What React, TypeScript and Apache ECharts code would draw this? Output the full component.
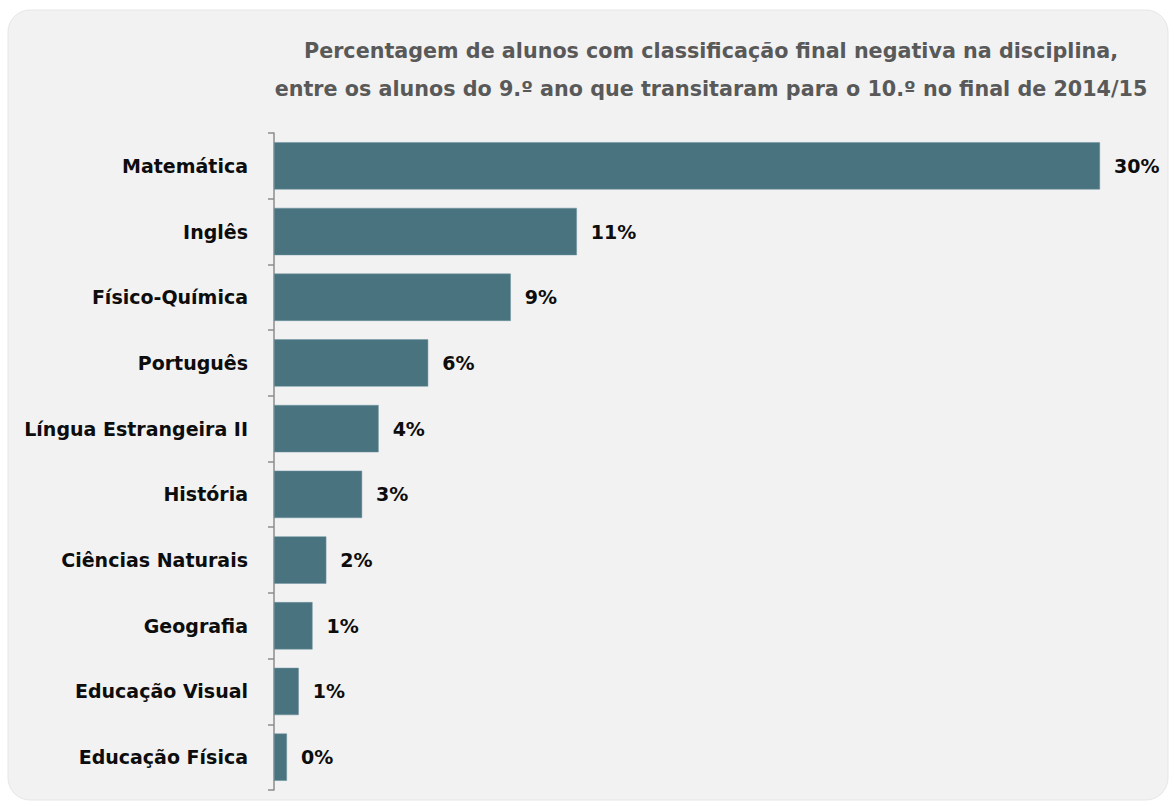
import React, { useEffect, useRef } from "react";
import * as echarts from "echarts";

const categories = [
  "Matemática",
  "Inglês",
  "Físico-Química",
  "Português",
  "Língua Estrangeira II",
  "História",
  "Ciências Naturais",
  "Geografia",
  "Educação Visual",
  "Educação Física",
];
const values = [30.0, 11.0, 8.6, 5.6, 3.8, 3.2, 1.9, 1.4, 0.9, 0.47];
const titleLines = [
  "Percentagem de alunos com classificação final negativa na disciplina,",
  "entre os alunos do 9.º ano que transitaram para o 10.º no final de 2014/15",
];

const FONT = "'DejaVu Sans'";

export default function App() {
  const ref = useRef<HTMLDivElement>(null);
  useEffect(() => {
    const chart = echarts.init(ref.current!, null, { renderer: "svg" });
    chart.setOption({
      animation: false,
      backgroundColor: "#ffffff",
      graphic: [
        {
          type: "rect",
          z: -10,
          shape: { x: 8, y: 10, width: 1160, height: 790, r: 22 },
          style: { fill: "#f2f2f2", stroke: "#e6e6e6", lineWidth: 1 },
        },
      ],
      title: {
        text: titleLines.join("\n"),
        left: 706,
        top: 27,
        textAlign: "center",
        textStyle: {
          fontFamily: FONT,
          fontWeight: "bold",
          fontSize: 20.7,
          color: "#595959",
          lineHeight: 38,
          align: "center",
        },
      },
      grid: { left: 274, right: 74, top: 133, bottom: 16, containLabel: false },
      xAxis: {
        type: "value",
        min: 0,
        max: 30,
        show: false,
      },
      yAxis: {
        type: "category",
        inverse: true,
        data: categories,
        axisLine: { show: true, lineStyle: { color: "#8c8c8c", width: 1.5 } },
        axisTick: { show: true, length: 6, lineStyle: { color: "#8c8c8c", width: 1.5 } },
        axisLabel: {
          margin: 26,
          fontFamily: FONT,
          fontWeight: "bold",
          fontSize: 19,
          color: "#0d0d0d",
        },
      },
      series: [
        {
          type: "bar",
          data: values,
          barCategoryGap: "28%",
          itemStyle: { color: "#4a7380", borderColor: "#6f95a0", borderWidth: 0.5 },
          label: {
            show: true,
            position: "right",
            distance: 14,
            formatter: (p: any) => Math.round(p.value) + "%",
            fontFamily: FONT,
            fontWeight: "bold",
            fontSize: 19,
            color: "#0d0d0d",
          },
        },
      ],
    });
    return () => chart.dispose();
  }, []);
  return (
    <div
      ref={ref}
      style={{ position: "absolute", left: 0, top: 0, width: 1174, height: 806 }}
    />
  );
}
